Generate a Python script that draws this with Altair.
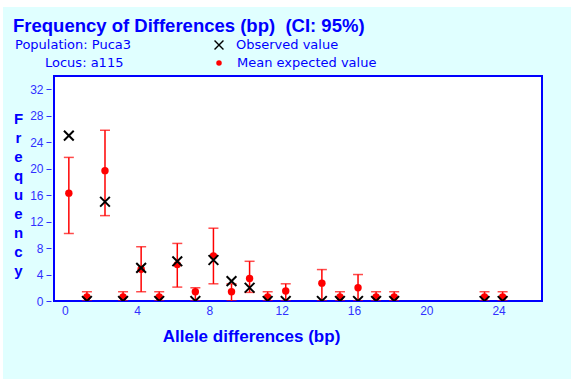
import altair as alt
import pandas as pd

# Allele differences (bp) with observed counts and simulated expectations
diffs = [0, 1, 2, 3, 4, 5, 6, 7, 8, 9, 10, 11, 12, 14, 15, 16, 17, 18, 23, 24]
observed = [25, 0, 15, 0, 5, 0, 6, 0, 6.2, 3, 2, 0, 0, 0, 0, 0, 0, 0, 0, 0]
mean_expected = [16.3, 0.6, 19.7, 0.6, 4.8, 0.6, 5.5, 1.4, 6.8, 1.4, 3.4, 0.6,
                 1.5, 2.7, 0.6, 2.0, 0.6, 0.6, 0.6, 0.6]
ci_low = [10.2, 0, 12.9, 0, 1.4, 0, 2.1, 0, 2.6, 0, 1.3, 0,
          0, 0, 0, 0, 0, 0, 0, 0]
ci_high = [21.7, 1.4, 25.8, 1.4, 8.2, 1.4, 8.7, 2.0, 11.0, 2.6, 6.0, 1.4,
           2.6, 4.75, 1.4, 4.0, 1.4, 1.4, 1.4, 1.4]

x_ticks = [0, 4, 8, 12, 16, 20, 24]
y_ticks = [0, 4, 8, 12, 16, 20, 24, 28, 32]

# non-breaking space keeps the wide gap before the CI note
title_text = "Frequency of Differences (bp) \u00a0(CI: 95%)"
population_text = "Population: Puca3"
locus_text = "Locus: a115"
legend_observed = "Observed value"
legend_mean = "Mean expected value"
x_title = "Allele differences (bp)"
y_title = list("Frequency")

W, H = 488, 225
FONT = "Liberation Sans"
SMALL_FONT = "DejaVu Sans"
BLUE = "#0000ff"
TICK_BLUE = "#3030ff"
RED = "#ff0000"
X_PATH = "M-1,-1L1,1M-1,1L1,-1"

df = pd.DataFrame({
    "diff": diffs,
    "observed": observed,
    "mean": mean_expected,
    "lo": ci_low,
    "hi": ci_high,
})

x_scale = alt.Scale(domain=[-0.6, 26.4], nice=False, zero=False)
x_axis = alt.Axis(
    values=x_ticks, title=x_title, tickSize=0, labelPadding=4,
    labelOverlap=False,
    titleX=197, titleY=35, titleBaseline="middle", titleAlign="center",
    titleFontSize=17,
)
y_scale = alt.Scale(domain=[0, 34], nice=False, zero=False)
y_axis = alt.Axis(
    values=y_ticks, tickCount=9, title=y_title, tickSize=5, offset=3,
    labelPadding=3, labelOverlap=False, labelFlush=False,
    titleAngle=0, titleAlign="center", titleBaseline="top",
    titleX=-33, titleY=35, titleLineHeight=19, titleFontSize=15,
)


def xq(field):
    return alt.X(f"{field}:Q", scale=x_scale, axis=x_axis)


def yq(field):
    return alt.Y(f"{field}:Q", scale=y_scale, axis=y_axis)


base = alt.Chart(df)

ci_rule = base.mark_rule(color=RED, strokeWidth=1.5, clip=True, xOffset=4).encode(
    x=xq("diff"), y=yq("lo"), y2="hi:Q"
)
cap_hi = base.mark_tick(color=RED, orient="horizontal", size=10, thickness=1.5,
                        clip=True, xOffset=4).encode(
    x=xq("diff"), y=yq("hi")
)
cap_lo = base.mark_tick(color=RED, orient="horizontal", size=10, thickness=1.5,
                        clip=True, xOffset=4).encode(
    x=xq("diff"), y=yq("lo")
)
mean_pts = base.mark_point(shape="circle", filled=True, color=RED, size=55,
                           opacity=1, clip=True, xOffset=4).encode(
    x=xq("diff"), y=yq("mean")
)
obs_pts = base.mark_point(shape=X_PATH, filled=False, color="black", size=95,
                          strokeWidth=2, opacity=1, clip=True, xOffset=4).encode(
    x=xq("diff"), y=yq("observed")
)

one = alt.Data(values=[{"k": 0}])


def label(text, x, y, size=13, weight="normal", font=SMALL_FONT, color=BLUE):
    return alt.Chart(one).mark_text(
        align="left", baseline="middle", font=font, fontSize=size,
        fontWeight=weight, color=color,
    ).encode(x=alt.value(x), y=alt.value(y), text=alt.value(text))


# thin white edge along the top and left of the canvas
edge_top = alt.Chart(one).mark_rect(color="white").encode(
    x=alt.value(-54), x2=alt.value(W + 29), y=alt.value(-76), y2=alt.value(-69)
)
edge_left = alt.Chart(one).mark_rect(color="white").encode(
    x=alt.value(-54), x2=alt.value(-51), y=alt.value(-76), y2=alt.value(H + 78)
)

legend_x = alt.Chart(one).mark_point(
    shape=X_PATH, filled=False, color="black", size=80, strokeWidth=1.4, opacity=1
).encode(x=alt.value(165), y=alt.value(-31))
legend_dot = alt.Chart(one).mark_point(
    shape="circle", filled=True, color=RED, size=30, opacity=1
).encode(x=alt.value(165), y=alt.value(-13))

chart = alt.layer(
    edge_top, edge_left,
    ci_rule, cap_hi, cap_lo, mean_pts, obs_pts,
    label(title_text, -41, -50, size=18.5, weight="bold", font=FONT),
    label(population_text, -39, -31),
    label(locus_text, -9, -13),
    legend_x, legend_dot,
    label(legend_observed, 182, -31),
    label(legend_mean, 183, -13),
).properties(
    width=W, height=H,
    autosize=alt.AutoSizeParams(type="none"),
    padding={"left": 54, "top": 76, "right": 29, "bottom": 78},
    background="#e0ffff",
).configure_view(
    fill="white", stroke=BLUE, strokeWidth=2,
).configure_axis(
    grid=False, domain=False, labelFont=FONT, labelFontSize=12,
    labelColor=TICK_BLUE, tickColor=TICK_BLUE, tickWidth=1,
    titleFont=FONT, titleFontSize=14, titleFontWeight="bold", titleColor=BLUE,
)

chart.save("out.html", embed_options={"renderer": "svg", "actions": False})
